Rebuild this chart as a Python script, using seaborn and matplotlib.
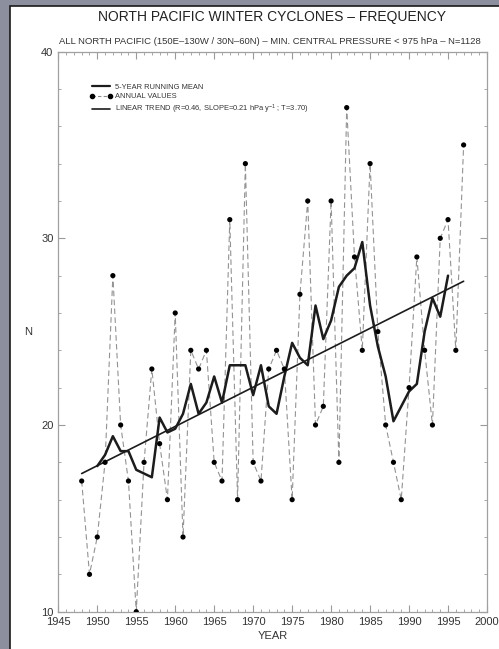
import matplotlib
matplotlib.use("Agg")
import matplotlib.pyplot as plt
import matplotlib.ticker as mticker
from matplotlib.lines import Line2D
from matplotlib.patches import Rectangle
import pandas as pd
import seaborn as sns

# --- data ----------------------------------------------------------------
YEARS = list(range(1948, 1998))
ANNUAL = [17, 12, 14, 18, 28, 20, 17, 10, 18, 23,
          19, 16, 26, 14, 24, 23, 24, 18, 17, 31,
          16, 34, 18, 17, 23, 24, 23, 16, 27, 32,
          20, 21, 32, 18, 37, 29, 24, 34, 25, 20,
          18, 16, 22, 29, 24, 20, 30, 31, 24, 35]

RM_YEARS = list(range(1950, 1996))
RUNNING_MEAN = [17.8, 18.4, 19.4, 18.6, 18.6, 17.6, 17.4, 17.2, 20.4, 19.6,
                19.8, 20.6, 22.2, 20.6, 21.2, 22.6, 21.2, 23.2, 23.2, 23.2,
                21.6, 23.2, 21.0, 20.6, 22.6, 24.4, 23.6, 23.2, 26.4, 24.6,
                25.6, 27.4, 28.0, 28.4, 29.8, 26.4, 24.2, 22.6, 20.2, 21.0,
                21.8, 22.2, 25.0, 26.8, 25.8, 28.0]

TREND_YEARS = [1948, 1997]
TREND = [17.4, 27.7]

TITLE = "NORTH PACIFIC WINTER CYCLONES \u2013 FREQUENCY"
SUBTITLE = ("ALL NORTH PACIFIC (150E\u2013130W / 30N\u201360N) \u2013 MIN. CENTRAL "
            "PRESSURE < 975 hPa \u2013 N=1128")
LEGEND_LABELS = ["5-YEAR RUNNING MEAN", "ANNUAL VALUES",
                 "LINEAR TREND (R=0.46, SLOPE=0.21 hPa y$^{-1}$ ; T=3.70)"]

df_annual = pd.DataFrame({"year": YEARS, "n": ANNUAL})
df_rm = pd.DataFrame({"year": RM_YEARS, "n": RUNNING_MEAN})
df_trend = pd.DataFrame({"year": TREND_YEARS, "n": TREND})

# --- style ----------------------------------------------------------------
sns.set_style("ticks")
plt.rcParams["font.family"] = ["Liberation Sans", "DejaVu Sans"]
plt.rcParams["mathtext.fontset"] = "custom"
plt.rcParams["mathtext.rm"] = "Liberation Sans"

W, H = 499, 649
fig = plt.figure(figsize=(W / 100, H / 100), dpi=100, facecolor="#8c8f9d")

# scanned paper sheet (behind the axes)
paper = Rectangle((10 / W, -0.01), 1.0, 1 - 6 / H + 0.01, transform=fig.transFigure,
                  facecolor="white", edgecolor="#1a1a1a", lw=1.2, zorder=-10)
fig.patches.append(paper)

ax = fig.add_axes([58.3 / W, 1 - 611.7 / H, (487 - 58.3) / W, (611.7 - 51.6) / H])
ax.set_facecolor("white")

# annual values: grey dashed connector + black dots
sns.lineplot(data=df_annual, x="year", y="n", color="#939393", lw=0.8,
             linestyle=(0, (5, 3)), ax=ax, zorder=2)
sns.scatterplot(data=df_annual, x="year", y="n", color="black", s=14,
                edgecolor="none", ax=ax, zorder=4)
# 5-year running mean
sns.lineplot(data=df_rm, x="year", y="n", color="#1c1c1c", lw=1.8, ax=ax, zorder=3)
# linear trend
sns.lineplot(data=df_trend, x="year", y="n", color="#1c1c1c", lw=1.2, ax=ax, zorder=3)

ax.set_xlim(1945, 2000)
ax.set_ylim(10, 40)
ax.xaxis.set_major_locator(mticker.MultipleLocator(5))
ax.xaxis.set_minor_locator(mticker.MultipleLocator(1))
ax.yaxis.set_major_locator(mticker.MultipleLocator(10))
ax.yaxis.set_minor_locator(mticker.MultipleLocator(2))
ax.tick_params(which="both", direction="in", top=True, right=True,
               color="#9a9a9a", labelsize=8, labelcolor="#333333")
ax.tick_params(which="major", length=5, width=0.8)
ax.tick_params(which="minor", length=2.5, width=0.6)
for sp in ax.spines.values():
    sp.set_color("#a0a0a0")
    sp.set_linewidth(0.9)

ax.set_xlabel("YEAR", fontsize=8, color="#333333", labelpad=3)
ax.set_ylabel("N", fontsize=8, color="#333333", rotation=0, labelpad=9, va="center")

handles = [
    Line2D([], [], color="#1c1c1c", lw=1.6),
    Line2D([], [], color="#8a8a8a", lw=0.8, linestyle=(0, (3, 2)),
           marker="o", markersize=3, markerfacecolor="black", markeredgecolor="black"),
    Line2D([], [], color="#1c1c1c", lw=1.2),
]
ax.legend(handles, LEGEND_LABELS, loc="upper left", bbox_to_anchor=(0.058, 0.955),
          frameon=False, fontsize=5.4, handlelength=3.0, handletextpad=0.3,
          labelspacing=0.3, numpoints=2, labelcolor="#333333")

fig.text(272 / W, 1 - 17 / H, TITLE, ha="center", va="center", fontsize=10,
         color="#222222")
fig.text(270 / W, 1 - 41 / H, SUBTITLE, ha="center", va="center", fontsize=6.8,
         color="#333333")

fig.savefig("out.png", dpi=100, facecolor=fig.get_facecolor())
